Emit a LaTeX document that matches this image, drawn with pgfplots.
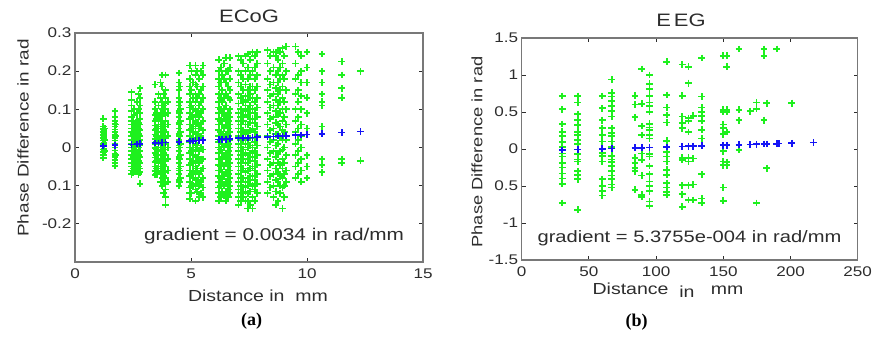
\documentclass[border=0pt]{standalone}
\usepackage{pgfplots}
\pgfplotsset{compat=1.18}
\usepackage{fontspec}
\setmainfont{Liberation Sans}[FakeStretch=1.22]
\newfontfamily\capfont{Liberation Serif}
\definecolor{ggreen}{RGB}{30,240,30}
\definecolor{bblue}{RGB}{20,20,245}
\definecolor{txt}{RGB}{45,45,45}
\definecolor{boxc}{RGB}{120,120,120}
\pgfplotsset{
  myax/.style={
    scale only axis,
    axis line style={boxc,line width=1.3pt},
    tick style={txt,line width=0.9pt},
    major tick length=4pt,
    tick align=inside,
    /pgf/number format/assume math mode=true,
    ticklabel style={font=\fontsize{14}{15}\selectfont,text=txt},
    xticklabel style={yshift=-3pt},
    clip=false,
  },
  gm/.style={only marks, mark=+, mark size=3.4pt, mark options={line width=1.7pt, draw=ggreen}},
  bm/.style={only marks, mark=+, mark size=3.4pt, mark options={line width=1.7pt, draw=bblue}},
}
\begin{document}
\begin{tikzpicture}
\useasboundingbox (0pt,0pt) rectangle (872pt,337pt);
% ---------------- ECoG ----------------
\begin{axis}[myax, at={(75pt,75pt)}, anchor=south west, width=348pt, height=229pt,
  xmin=0, xmax=15, ymin=-0.3, ymax=0.3,
  xtick={0,5,10,15}, xticklabels={0,5,10,15},
  ytick={-0.3,-0.2,-0.1,0,0.1,0.2,0.3},
  yticklabels={,-0.2,0.1,0,0.1,0.2,0.3}]
\addplot[gm] coordinates {
(1.22,0.075)(1.22,0.055)(1.22,0.048)(1.22,0.04)(1.22,0.032)(1.22,0.025)(1.22,0.018)(1.22,0.01)(1.22,0.003)(1.22,-0.005)(1.22,-0.012)(1.22,-0.02)(1.22,-0.027)
(1.28,0.05)(1.28,0.02)(1.28,-0.01)
(1.25,0.045)(1.25,0.035)(1.25,0.028)(1.25,0.012)(1.25,0.005)(1.25,-0.003)
(1.72,0.095)(1.72,0.08)(1.72,0.07)(1.72,0.062)(1.72,0.055)(1.72,0.047)(1.72,0.04)(1.72,0.032)(1.72,0.025)(1.72,0.018)(1.72,0.01)(1.72,0.0)(1.72,-0.008)(1.72,-0.016)(1.72,-0.024)(1.72,-0.032)(1.72,-0.04)(1.72,-0.048)
(1.76,0.06)(1.76,0.03)(1.76,-0.02)
(2.44,0.145)(2.44,0.125)(2.44,0.11)(2.44,0.095)(2.44,0.08)(2.44,0.07)(2.44,0.06)(2.44,0.05)(2.44,0.04)(2.44,0.03)(2.44,0.02)(2.44,0.01)(2.44,0.0)(2.44,-0.01)(2.44,-0.02)(2.44,-0.03)(2.44,-0.04)(2.44,-0.05)(2.44,-0.06)(2.44,-0.07)
(2.5,0.07)(2.5,0.05)(2.5,0.035)(2.5,0.02)(2.5,0.005)(2.5,-0.01)(2.5,-0.025)(2.5,-0.04)(2.5,-0.055)(2.5,-0.065)
(2.55,0.1)(2.55,0.085)(2.55,0.06)(2.55,0.045)(2.55,0.03)(2.55,0.015)(2.55,-0.005)(2.55,-0.02)(2.55,-0.035)(2.55,-0.05)
(2.62,0.065)(2.62,0.045)(2.62,0.03)(2.62,0.015)(2.62,0.0)(2.62,-0.01)(2.62,-0.025)(2.62,-0.04)(2.62,-0.055)
(2.68,0.12)(2.68,0.09)(2.68,0.07)(2.68,0.055)(2.68,0.04)(2.68,0.025)(2.68,0.008)(2.68,-0.015)(2.68,-0.03)(2.68,-0.045)(2.68,-0.06)
(2.74,0.14)(2.74,0.1)(2.74,0.065)(2.74,0.05)(2.74,0.035)(2.74,0.015)(2.74,0.0)(2.74,-0.02)(2.74,-0.035)(2.74,-0.05)(2.74,-0.07)
(2.8,0.155)(2.8,0.13)(2.8,0.11)(2.8,0.09)(2.8,0.075)(2.8,0.06)(2.8,0.045)(2.8,0.03)(2.8,0.02)(2.8,0.005)(2.8,-0.01)(2.8,-0.025)(2.8,-0.04)(2.8,-0.055)(2.8,-0.065)(2.8,-0.095)
(3.45,0.165)(3.45,0.12)(3.45,0.1)(3.45,0.085)(3.45,0.07)(3.45,0.058)(3.45,0.046)(3.45,0.034)(3.45,0.022)(3.45,0.01)(3.45,-0.002)(3.45,-0.014)(3.45,-0.026)(3.45,-0.038)(3.45,-0.05)(3.45,-0.062)(3.45,-0.072)
(3.52,0.09)(3.52,0.075)(3.52,0.05)(3.52,0.03)(3.52,0.015)(3.52,-0.005)(3.52,-0.02)(3.52,-0.035)(3.52,-0.055)(3.52,-0.07)
(3.6,0.14)(3.6,0.11)(3.6,0.08)(3.6,0.06)(3.6,0.04)(3.6,0.02)(3.6,0.0)(3.6,-0.02)(3.6,-0.04)(3.6,-0.06)
(3.68,0.17)(3.68,0.13)(3.68,0.09)(3.68,0.07)(3.68,0.05)(3.68,0.03)(3.68,0.01)(3.68,-0.01)(3.68,-0.03)(3.68,-0.05)(3.68,-0.07)(3.68,-0.09)
(3.75,0.19)(3.75,0.16)(3.75,0.12)(3.75,0.1)(3.75,0.085)(3.75,0.07)(3.75,0.055)(3.75,0.04)(3.75,0.025)(3.75,0.01)(3.75,-0.005)(3.75,-0.02)(3.75,-0.035)(3.75,-0.05)(3.75,-0.065)(3.75,-0.08)(3.75,-0.1)
(3.83,0.14)(3.83,0.11)(3.83,0.09)(3.83,0.06)(3.83,0.045)(3.83,0.03)(3.83,0.015)(3.83,0.0)(3.83,-0.015)(3.83,-0.03)(3.83,-0.045)(3.83,-0.06)(3.83,-0.075)(3.83,-0.09)(3.83,-0.12)
(3.9,0.19)(3.9,0.15)(3.9,0.13)(3.9,0.115)(3.9,0.1)(3.9,0.085)(3.9,0.07)(3.9,0.055)(3.9,0.04)(3.9,0.025)(3.9,0.01)(3.9,-0.005)(3.9,-0.02)(3.9,-0.035)(3.9,-0.05)(3.9,-0.065)(3.9,-0.08)(3.9,-0.095)(3.9,-0.11)(3.9,-0.13)(3.9,-0.15)
(4.0,0.12)(4.0,0.09)(4.0,0.06)(4.0,0.03)(4.0,0.0)(4.0,-0.03)(4.0,-0.06)(4.0,-0.09)
(4.48,0.195)(4.48,0.17)(4.48,0.15)(4.48,0.13)(4.48,0.11)(4.48,0.095)(4.48,0.08)(4.48,0.065)(4.48,0.05)(4.48,0.035)(4.48,0.02)(4.48,0.005)(4.48,-0.01)(4.48,-0.025)(4.48,-0.04)(4.48,-0.055)(4.48,-0.07)(4.48,-0.085)(4.48,-0.1)
(4.52,0.16)(4.52,0.12)(4.52,0.09)(4.52,0.06)(4.52,0.03)(4.52,0.0)(4.52,-0.03)(4.52,-0.06)(4.52,-0.09)
(4.55,0.1)(4.55,0.07)(4.55,0.04)(4.55,0.01)(4.55,-0.02)(4.55,-0.05)(4.55,-0.08)
(4.95,0.215)(4.95,0.18)(4.95,0.16)(4.95,0.14)(4.95,0.12)(4.95,0.105)(4.95,0.09)(4.95,0.075)(4.95,0.06)(4.95,0.045)(4.95,0.03)(4.95,0.015)(4.95,0.0)(4.95,-0.015)(4.95,-0.03)(4.95,-0.045)(4.95,-0.06)(4.95,-0.075)(4.95,-0.09)(4.95,-0.105)(4.95,-0.12)(4.95,-0.135)
(5.02,0.2)(5.02,0.15)(5.02,0.11)(5.02,0.08)(5.02,0.05)(5.02,0.02)(5.02,-0.01)(5.02,-0.04)(5.02,-0.07)(5.02,-0.1)(5.02,-0.12)
(5.1,0.17)(5.1,0.13)(5.1,0.1)(5.1,0.08)(5.1,0.06)(5.1,0.04)(5.1,0.02)(5.1,0.0)(5.1,-0.02)(5.1,-0.04)(5.1,-0.06)(5.1,-0.08)(5.1,-0.1)
(5.2,0.215)(5.2,0.19)(5.2,0.165)(5.2,0.14)(5.2,0.12)(5.2,0.1)(5.2,0.085)(5.2,0.07)(5.2,0.055)(5.2,0.04)(5.2,0.025)(5.2,0.01)(5.2,-0.005)(5.2,-0.02)(5.2,-0.035)(5.2,-0.05)(5.2,-0.065)(5.2,-0.08)(5.2,-0.095)(5.2,-0.11)(5.2,-0.14)
(5.27,0.2)(5.27,0.16)(5.27,0.13)(5.27,0.095)(5.27,0.065)(5.27,0.035)(5.27,0.005)(5.27,-0.025)(5.27,-0.055)(5.27,-0.085)(5.27,-0.115)
(5.35,0.18)(5.35,0.14)(5.35,0.11)(5.35,0.08)(5.35,0.05)(5.35,0.02)(5.35,-0.01)(5.35,-0.04)(5.35,-0.07)(5.35,-0.1)(5.35,-0.13)
(5.43,0.2)(5.43,0.15)(5.43,0.12)(5.43,0.09)(5.43,0.06)(5.43,0.03)(5.43,0.0)(5.43,-0.03)(5.43,-0.06)(5.43,-0.09)(5.43,-0.12)
(5.52,0.215)(5.52,0.19)(5.52,0.16)(5.52,0.13)(5.52,0.1)(5.52,0.07)(5.52,0.045)(5.52,0.02)(5.52,-0.005)(5.52,-0.03)(5.52,-0.055)(5.52,-0.08)(5.52,-0.105)(5.52,-0.13)
(6.2,0.23)(6.2,0.2)(6.2,0.18)(6.2,0.16)(6.2,0.14)(6.2,0.12)(6.2,0.105)(6.2,0.09)(6.2,0.075)(6.2,0.06)(6.2,0.045)(6.2,0.03)(6.2,0.015)(6.2,0.0)(6.2,-0.015)(6.2,-0.03)(6.2,-0.045)(6.2,-0.06)(6.2,-0.075)(6.2,-0.09)(6.2,-0.105)(6.2,-0.12)(6.2,-0.14)
(6.28,0.21)(6.28,0.17)(6.28,0.13)(6.28,0.1)(6.28,0.07)(6.28,0.04)(6.28,0.02)(6.28,-0.005)(6.28,-0.03)(6.28,-0.05)(6.28,-0.08)(6.28,-0.1)(6.28,-0.13)
(6.35,0.19)(6.35,0.15)(6.35,0.12)(6.35,0.09)(6.35,0.06)(6.35,0.035)(6.35,0.01)(6.35,-0.015)(6.35,-0.04)(6.35,-0.065)(6.35,-0.09)(6.35,-0.115)
(6.43,0.22)(6.43,0.18)(6.43,0.13)(6.43,0.1)(6.43,0.075)(6.43,0.05)(6.43,0.025)(6.43,0.0)(6.43,-0.025)(6.43,-0.05)(6.43,-0.075)(6.43,-0.1)(6.43,-0.125)
(6.5,0.235)(6.5,0.2)(6.5,0.17)(6.5,0.14)(6.5,0.11)(6.5,0.085)(6.5,0.06)(6.5,0.035)(6.5,0.01)(6.5,-0.015)(6.5,-0.04)(6.5,-0.065)(6.5,-0.09)(6.5,-0.115)(6.5,-0.14)
(6.6,0.2)(6.6,0.16)(6.6,0.13)(6.6,0.09)(6.6,0.07)(6.6,0.05)(6.6,0.03)(6.6,0.01)(6.6,-0.01)(6.6,-0.03)(6.6,-0.05)(6.6,-0.07)(6.6,-0.09)(6.6,-0.11)(6.6,-0.13)
(6.68,0.235)(6.68,0.21)(6.68,0.18)(6.68,0.15)(6.68,0.125)(6.68,0.1)(6.68,0.08)(6.68,0.06)(6.68,0.04)(6.68,0.02)(6.68,0.0)(6.68,-0.02)(6.68,-0.04)(6.68,-0.06)(6.68,-0.08)(6.68,-0.1)(6.68,-0.12)
(7.05,0.24)(7.05,0.2)(7.05,0.17)(7.05,0.14)(7.05,0.115)(7.05,0.09)(7.05,0.07)(7.05,0.05)(7.05,0.03)(7.05,0.01)(7.05,-0.01)(7.05,-0.03)(7.05,-0.05)(7.05,-0.07)(7.05,-0.09)(7.05,-0.11)(7.05,-0.13)(7.05,-0.15)
(7.15,0.23)(7.15,0.19)(7.15,0.16)(7.15,0.13)(7.15,0.1)(7.15,0.08)(7.15,0.06)(7.15,0.04)(7.15,0.02)(7.15,0.0)(7.15,-0.02)(7.15,-0.04)(7.15,-0.06)(7.15,-0.08)(7.15,-0.1)(7.15,-0.12)(7.15,-0.14)
(7.25,0.22)(7.25,0.18)(7.25,0.15)(7.25,0.12)(7.25,0.095)(7.25,0.07)(7.25,0.045)(7.25,0.02)(7.25,-0.005)(7.25,-0.03)(7.25,-0.055)(7.25,-0.08)(7.25,-0.105)(7.25,-0.13)
(7.35,0.24)(7.35,0.2)(7.35,0.165)(7.35,0.135)(7.35,0.11)(7.35,0.085)(7.35,0.06)(7.35,0.035)(7.35,0.01)(7.35,-0.015)(7.35,-0.04)(7.35,-0.065)(7.35,-0.09)(7.35,-0.115)(7.35,-0.14)
(7.45,0.245)(7.45,0.21)(7.45,0.18)(7.45,0.15)(7.45,0.125)(7.45,0.1)(7.45,0.08)(7.45,0.06)(7.45,0.04)(7.45,0.02)(7.45,0.0)(7.45,-0.02)(7.45,-0.04)(7.45,-0.06)(7.45,-0.08)(7.45,-0.1)(7.45,-0.12)(7.45,-0.14)(7.45,-0.16)
(7.55,0.23)(7.55,0.19)(7.55,0.16)(7.55,0.14)(7.55,0.11)(7.55,0.09)(7.55,0.065)(7.55,0.045)(7.55,0.025)(7.55,0.005)(7.55,-0.015)(7.55,-0.035)(7.55,-0.055)(7.55,-0.075)(7.55,-0.095)(7.55,-0.115)(7.55,-0.15)
(7.65,0.25)(7.65,0.2)(7.65,0.16)(7.65,0.13)(7.65,0.1)(7.65,0.075)(7.65,0.05)(7.65,0.025)(7.65,0.0)(7.65,-0.025)(7.65,-0.05)(7.65,-0.075)(7.65,-0.1)(7.65,-0.13)(7.65,-0.16)
(7.75,0.24)(7.75,0.21)(7.75,0.18)(7.75,0.15)(7.75,0.12)(7.75,0.09)(7.75,0.065)(7.75,0.04)(7.75,0.015)(7.75,-0.01)(7.75,-0.035)(7.75,-0.06)(7.75,-0.085)(7.75,-0.11)(7.75,-0.14)
(7.85,0.25)(7.85,0.22)(7.85,0.19)(7.85,0.16)(7.85,0.13)(7.85,0.105)(7.85,0.08)(7.85,0.055)(7.85,0.03)(7.85,0.005)(7.85,-0.02)(7.85,-0.045)(7.85,-0.07)(7.85,-0.095)(7.85,-0.12)
(8.3,0.255)(8.3,0.22)(8.3,0.18)(8.3,0.15)(8.3,0.12)(8.3,0.09)(8.3,0.06)(8.3,0.03)(8.3,0.0)(8.3,-0.03)(8.3,-0.06)(8.3,-0.09)(8.3,-0.12)
(8.42,0.24)(8.42,0.2)(8.42,0.165)(8.42,0.135)(8.42,0.105)(8.42,0.075)(8.42,0.045)(8.42,0.015)(8.42,-0.015)(8.42,-0.045)(8.42,-0.075)(8.42,-0.105)
(8.55,0.25)(8.55,0.21)(8.55,0.17)(8.55,0.14)(8.55,0.11)(8.55,0.08)(8.55,0.05)(8.55,0.02)(8.55,-0.01)(8.55,-0.04)(8.55,-0.07)(8.55,-0.1)(8.55,-0.13)
(8.65,0.24)(8.65,0.19)(8.65,0.155)(8.65,0.125)(8.65,0.095)(8.65,0.065)(8.65,0.035)(8.65,0.005)(8.65,-0.025)(8.65,-0.055)(8.65,-0.085)(8.65,-0.115)(8.65,-0.15)
(8.75,0.255)(8.75,0.23)(8.75,0.2)(8.75,0.17)(8.75,0.14)(8.75,0.11)(8.75,0.085)(8.75,0.06)(8.75,0.035)(8.75,0.01)(8.75,-0.015)(8.75,-0.04)(8.75,-0.065)(8.75,-0.09)(8.75,-0.14)
(8.85,0.25)(8.85,0.21)(8.85,0.18)(8.85,0.15)(8.85,0.12)(8.85,0.09)(8.85,0.055)(8.85,0.025)(8.85,-0.01)(8.85,-0.045)(8.85,-0.075)(8.85,-0.1)(8.85,-0.12)
(8.95,0.26)(8.95,0.22)(8.95,0.19)(8.95,0.16)(8.95,0.13)(8.95,0.1)(8.95,0.07)(8.95,0.045)(8.95,0.02)(8.95,-0.005)(8.95,-0.03)(8.95,-0.055)(8.95,-0.08)(8.95,-0.105)(8.95,-0.16)
(9.02,0.24)(9.02,0.18)(9.02,0.12)(9.02,0.08)(9.02,0.04)(9.02,0.0)(9.02,-0.04)(9.02,-0.07)(9.02,-0.1)(9.02,-0.13)
(9.1,0.265)(9.1,0.2)(9.1,0.15)(9.1,0.1)(9.1,0.06)(9.1,0.02)(9.1,-0.02)(9.1,-0.06)(9.1,-0.09)
(9.5,0.265)(9.5,0.22)(9.5,0.18)(9.5,0.14)(9.5,0.1)(9.5,0.07)(9.5,0.04)(9.5,0.01)(9.5,-0.02)(9.5,-0.05)(9.5,-0.08)
(9.62,0.25)(9.62,0.19)(9.62,0.15)(9.62,0.12)(9.62,0.08)(9.62,0.05)(9.62,0.02)(9.62,-0.01)(9.62,-0.04)(9.62,-0.07)
(9.75,0.24)(9.75,0.2)(9.75,0.17)(9.75,0.135)(9.75,0.1)(9.75,0.06)(9.75,0.03)(9.75,0.0)(9.75,-0.03)(9.75,-0.06)(9.75,-0.09)
(10.0,0.25)(10.0,0.21)(10.0,0.17)(10.0,0.13)(10.0,0.09)(10.0,0.05)(10.0,-0.02)(10.0,-0.05)(10.0,-0.08)
(10.65,0.245)(10.65,0.2)(10.65,0.17)(10.65,0.14)(10.65,0.12)(10.65,0.11)(10.65,0.055)(10.65,-0.03)(10.65,-0.045)(10.65,-0.065)
(11.5,0.225)(11.5,0.19)(11.5,0.155)(11.5,0.13)(11.5,-0.03)(11.5,-0.04)
(12.3,0.2)(12.3,-0.035)
};
\addplot[bm] coordinates {
(1.22,0.004)(1.72,0.006)(2.44,0.008)(2.68,0.009)(2.8,0.01)(3.45,0.012)(3.6,0.012)(3.75,0.013)(3.9,0.013)(4.48,0.015)(4.95,0.017)(5.1,0.017)(5.2,0.018)(5.35,0.018)(5.52,0.019)(6.2,0.021)(6.35,0.022)(6.5,0.022)(6.68,0.023)(7.05,0.024)(7.25,0.025)(7.45,0.025)(7.65,0.026)(7.85,0.027)(8.3,0.028)(8.55,0.029)(8.75,0.03)(8.95,0.03)(9.1,0.031)(9.5,0.032)(9.75,0.033)(10.0,0.034)(10.65,0.036)(11.5,0.039)(12.3,0.042)
};
\end{axis}
% ---------------- EEG ----------------
\begin{axis}[myax, at={(521.7pt,77pt)}, anchor=south west, width=336pt, height=222pt,
  xmin=0, xmax=250, ymin=-1.5, ymax=1.5,
  xtick={0,50,100,150,200,250}, xticklabels={0,50,100,150,200,250},
  ytick={-1.5,-1,-0.5,0,0.5,1,1.5},
  yticklabels={-1.5,-1,0.5,0,0.5,1,1.5}]
\addplot[gm] coordinates {
(30.2,0.716)(30.2,0.536)(30.2,0.338)(30.2,0.234)(30.2,0.176)(30.2,0.099)(30.2,0.03)(30.2,-0.06)(30.2,-0.10)(30.2,-0.19)(30.2,-0.25)(30.2,-0.33)(30.2,-0.40)(30.2,-0.47)(30.2,-0.73)
(41.7,0.716)(41.7,0.63)(41.7,0.47)(41.7,0.39)(41.7,0.32)(41.7,0.23)(41.7,0.19)(41.7,0.12)(41.7,0.07)(41.7,-0.07)(41.7,-0.14)(41.7,-0.17)(41.7,-0.30)(41.7,-0.35)(41.7,-0.41)(41.7,-0.82)
(60,0.716)(60,0.55)(60,0.39)(60,0.28)(60,0.19)(60,0.10)(60,-0.05)(60,-0.09)(60,-0.17)(60,-0.41)(60,-0.50)(60,-0.57)(60,-0.63)
(67,0.94)(67,0.76)(67,0.71)(67,0.65)(67,0.58)(67,0.51)(67,0.44)(67,0.28)(67,0.22)(67,0.18)(67,0.10)(67,0.03)(67,-0.09)(67,-0.14)(67,-0.18)(67,-0.23)(67,-0.30)(67,-0.36)(67,-0.41)(67,-0.48)(67,-0.52)
(84.3,0.72)(84.3,0.60)(84.3,0.43)(84.3,-0.12)(84.3,-0.19)(84.3,-0.26)(84.3,-0.30)(84.3,-0.55)
(89.3,1.08)(89.3,0.61)(89.3,0.31)(89.3,0.19)(89.3,-0.06)(89.3,-0.15)(89.3,-0.36)(89.3,-0.62)(89.3,-0.65)
(95,1.0)(95,0.88)(95,0.81)(95,0.72)(95,0.63)(95,0.58)(95,0.50)(95,0.34)(95,0.29)(95,0.26)(95,0.19)(95,0.14)(95,-0.07)(95,-0.10)(95,-0.23)(95,-0.34)(95,-0.44)(95,-0.50)(95,-0.57)(95,-0.71)(95,-0.77)
(107.9,1.18)(107.9,0.73)(107.9,0.56)(107.9,0.46)(107.9,0.36)(107.9,0.11)(107.9,-0.04)(107.9,-0.10)(107.9,-0.17)(107.9,-0.28)(107.9,-0.35)(107.9,-0.46)(107.9,-0.52)(107.9,-0.58)(107.9,-0.62)
(119.5,1.14)(119.5,0.72)(119.5,0.44)(119.5,0.35)(119.5,0.28)(119.5,-0.12)(119.5,-0.15)(119.5,-0.49)(119.5,-0.61)(119.5,-0.78)
(124,1.11)(124,0.89)(124,0.42)(124,0.38)(124,0.23)(124,-0.12)(124,-0.17)(124,-0.49)(124,-0.69)
(127.7,0.45)(127.7,-0.13)(127.7,-0.48)(127.7,-0.69)
(134,1.23)(134,0.71)(134,0.56)(134,0.50)(134,0.45)(134,0.38)(134,0.26)(134,0.14)(134,-0.34)(134,-0.67)(134,-0.73)
(150,1.26)(150,0.53)(150,0.50)(150,0.33)(150,0.28)(150,0.20)(150,-0.03)(150,-0.17)(150,-0.22)(150,-0.52)(150,-0.70)
(152.5,1.26)(152.5,1.11)(152.5,0.53)(152.5,0.50)(152.5,0.23)(152.5,-0.18)(152.5,-0.22)
(161.7,1.35)(161.7,0.53)(161.7,0.39)(161.7,-0.01)
(170,0.51)
(174.6,0.63)(174.6,0.54)(174.6,-0.73)
(180.3,1.35)(180.3,1.26)(180.3,0.39)
(182.3,0.62)(182.3,-0.26)
(189.7,1.35)
(200.9,0.62)
};
\addplot[bm] coordinates {
(30.2,-0.014)(41.7,-0.008)(60,0.002)(67,0.006)(84.3,0.015)(89.3,0.018)(95,0.021)(107.9,0.028)(119.5,0.035)(124,0.037)(127.7,0.039)(134,0.042)(150,0.051)(152.5,0.052)(161.7,0.057)(170,0.062)(174.6,0.064)(180.3,0.067)(182.3,0.068)(189.7,0.072)(191.5,0.073)(200.9,0.078)(217,0.087)
};
\end{axis}
% ---------------- texts ----------------
\begin{scope}[every node/.style={text=txt, inner sep=0pt}]
\node[font=\fontsize{18}{19}\selectfont] at (249pt,321pt) {ECoG};
\node[font=\fontsize{18}{19}\selectfont] at (681pt,317pt) {E\hspace{3pt}EG};
\node[font=\fontsize{16}{17}\selectfont] at (258pt,41pt) {Distance in\ \ mm};
\node[font=\fontsize{16}{17}\selectfont] at (668pt,47pt) {Distance\ \ \raisebox{-3pt}{in}\ \ \ mm};
\node[font=\fontsize{15.5}{16}\selectfont, rotate=90] at (23pt,199pt) {Phase Difference in rad};
\node[font=\fontsize{15}{16}\selectfont, rotate=90] at (477pt,185pt) {Phase Difference in rad};
\node[font=\fontsize{17}{18}\selectfont, fill=white, inner sep=1pt] at (274pt,101pt) {gradient = 0.0034 in rad/mm};
\node[font=\fontsize{16.5}{18}\selectfont, fill=white, inner sep=1pt] at (689.5pt,99pt) {gradient = 5.3755e-004 in rad/mm};
\node[font=\capfont\bfseries\fontsize{18}{19}\selectfont, text=black] at (251.7pt,16pt) {(a)};
\node[font=\capfont\bfseries\fontsize{18}{19}\selectfont, text=black] at (636.7pt,15pt) {(b)};
\end{scope}
\end{tikzpicture}
\end{document}
